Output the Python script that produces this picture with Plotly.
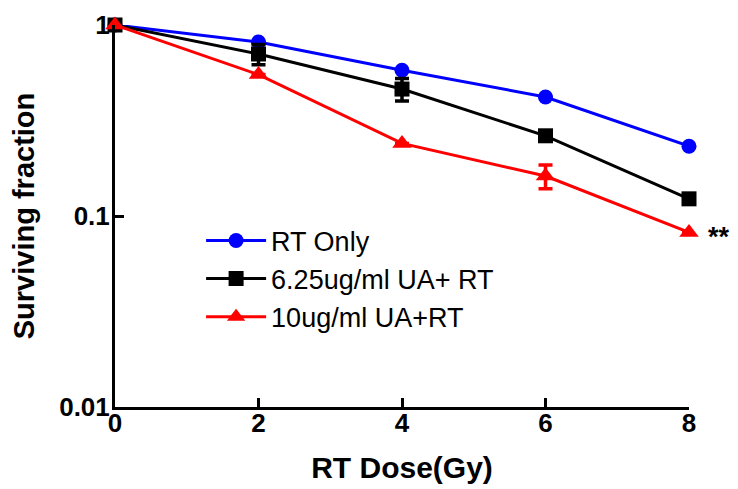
import math
import plotly.graph_objects as go

dose = [0, 2, 4, 6, 8]
rt_only = [1.0, 0.815, 0.58, 0.42, 0.232]
rt_only_err = [0, 0, 0, 0, 0]
ua625 = [1.0, 0.705, 0.462, 0.263, 0.123]
ua625_err = [0, 0.085, 0.062, 0, 0]
ua10 = [1.0, 0.55, 0.24, 0.162, 0.082]
ua10_err = [0, 0, 0, 0.023, 0]

names = ["RT Only", "6.25ug/ml UA+ RT", "10ug/ml UA+RT"]
colors = ["#0000ff", "#000000", "#ff0000"]
symbols = ["circle", "square", "triangle-up"]
msizes = [15, 15, 17]
series = [rt_only, ua625, ua10]
errors = [rt_only_err, ua625_err, ua10_err]

FONT = "Liberation Sans, Arial, sans-serif"

fig = go.Figure()
for name, col, sym, ms, ys, err in zip(names, colors, symbols, msizes, series, errors):
    fig.add_trace(go.Scatter(
        x=dose, y=ys, name=name, mode="lines+markers",
        line=dict(color=col, width=3),
        marker=dict(symbol=sym, size=ms, color=col),
        error_y=dict(type="data", array=err, visible=True, color=col,
                     thickness=3.5, width=7),
        cliponaxis=False,
    ))

# significance mark next to the last point of the 10ug/ml series
fig.add_annotation(x=dose[-1], y=math.log10(ua10[-1]), xref="x", yref="y", text="**",
                   showarrow=False, xanchor="left", xshift=17, yshift=-5,
                   font=dict(family=FONT, size=27, color="black", weight="bold"))

fig.update_layout(
    width=730, height=481,
    margin=dict(l=107, r=49, t=17, b=82),
    paper_bgcolor="white", plot_bgcolor="white",
    font=dict(family=FONT, color="black"),
    showlegend=True,
    legend=dict(x=0.150, y=0.499, xanchor="left", yanchor="top",
                bgcolor="rgba(0,0,0,0)",
                font=dict(family=FONT, size=27, color="black"),
                tracegroupgap=0, itemwidth=60),
    xaxis=dict(
        range=[0, 8], tickvals=[0, 2, 4, 6, 8], ticktext=["0", "2", "4", "6", "8"],
        showline=True, linecolor="black", linewidth=3,
        ticks="inside", ticklen=9, tickwidth=3, tickcolor="black",
        showgrid=False, zeroline=False, automargin=False,
        ticklabelstandoff=-9,
        tickfont=dict(family=FONT, size=26, weight="bold"),
        title=dict(text="RT Dose(Gy)", font=dict(family=FONT, size=30, weight="bold"),
                   standoff=20),
    ),
    yaxis=dict(
        type="log", range=[-2, 0],
        tickvals=[0.01, 0.1, 1], ticktext=["0.01", "0.1", "1"],
        showline=True, linecolor="black", linewidth=3,
        ticks="inside", ticklen=9, tickwidth=3, tickcolor="black",
        showgrid=False, zeroline=False, automargin=False,
        ticklabelstandoff=-3,
        tickfont=dict(family=FONT, size=26, weight="bold"),
        title=dict(text="Surviving fraction", font=dict(family=FONT, size=29, weight="bold"),
                   standoff=25),
    ),
)

fig.write_html("out.html")
